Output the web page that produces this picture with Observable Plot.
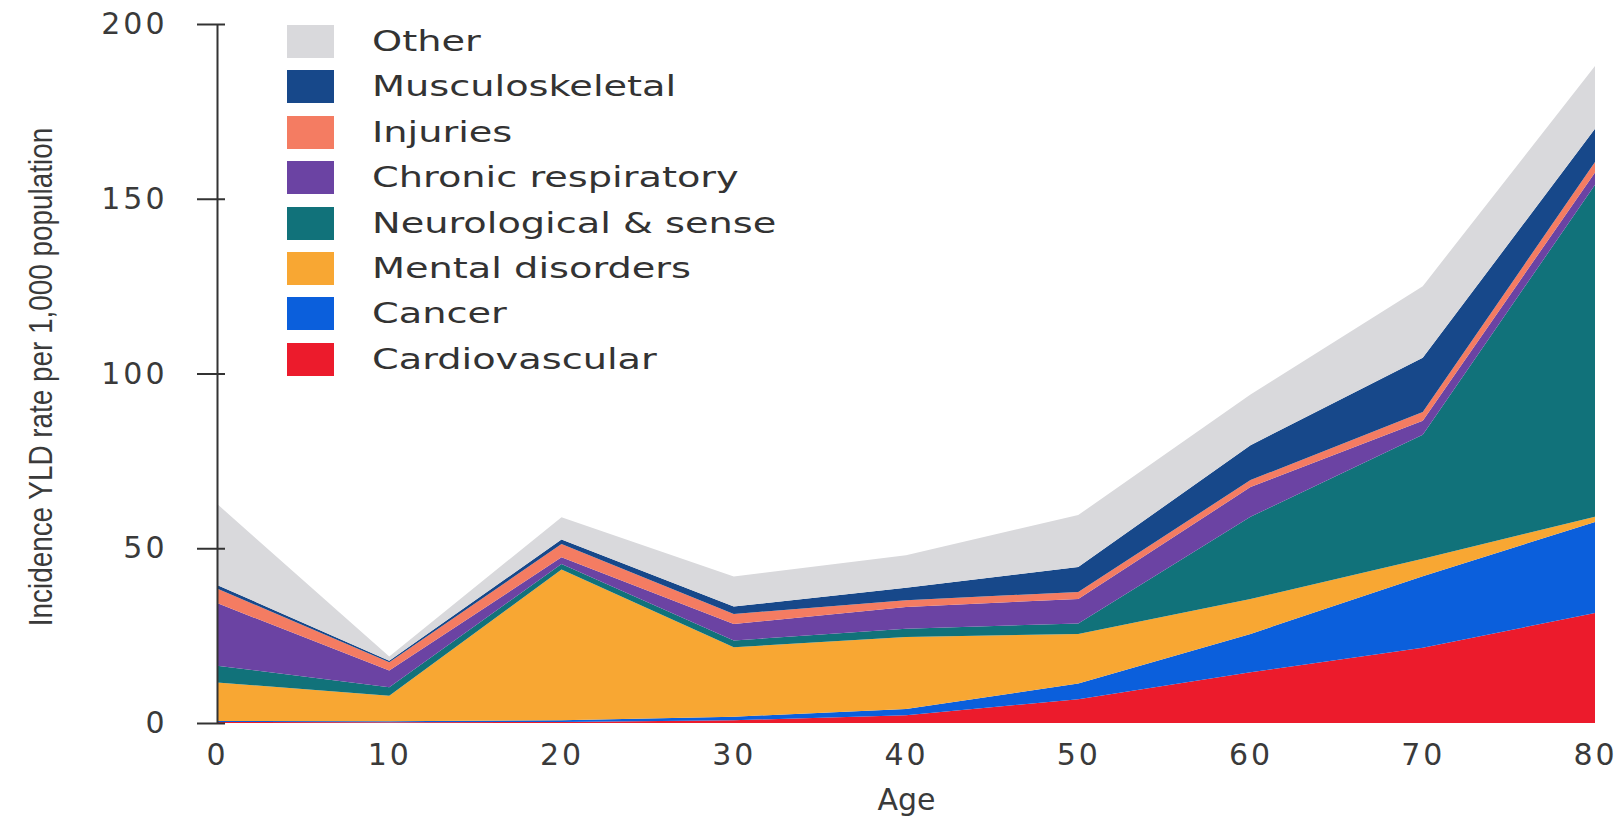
<!DOCTYPE html>
<html>
<head>
<meta charset="utf-8">
<script src="https://cdn.jsdelivr.net/npm/d3@7"></script>
<script src="https://cdn.jsdelivr.net/npm/@observablehq/plot@0.6"></script>
<style>
  body { margin: 0; background: #fff; }
  #wrap { position: relative; width: 1624px; height: 819px; overflow: hidden; }
  #legend { position: absolute; left: 287px; top: 25px; font-family: "DejaVu Sans", sans-serif; color: #333; }
  .row { position: relative; height: 45.4px; }
  .sw { position: absolute; left: 0; top: 0; width: 47px; height: 33px; }
  .lb { position: absolute; left: 85px; top: -2px; font-size: 29px; line-height: 36px; white-space: nowrap; transform: scaleX(1.32); transform-origin: left center; }
  g[aria-label="x-axis tick label"] text, g[aria-label="y-axis tick label"] text { letter-spacing: 3px; }
</style>
</head>
<body>
<div id="wrap"><div id="chart"></div><div id="legend"></div></div>
<script>
const ages = [0, 10, 20, 30, 40, 50, 60, 70, 80];
const causes = ["Cardiovascular", "Cancer", "Mental disorders", "Neurological & sense", "Chronic respiratory", "Injuries", "Musculoskeletal", "Other"];
const cardiovascular = [0.3, 0.2, 0.3, 0.8, 2.2, 6.8, 14.5, 21.5, 31.5];
const cancer = [0.3, 0.3, 0.5, 1.0, 1.8, 4.5, 11.0, 20.5, 26.0];
const mental = [11.0, 7.3, 43.1, 19.9, 20.6, 14.2, 10.0, 5.0, 1.5];
const neurological = [4.8, 2.4, 1.6, 1.9, 2.4, 3.0, 23.5, 35.5, 95.0];
const chronicResp = [17.9, 4.8, 1.9, 4.7, 6.2, 7.0, 8.5, 4.0, 3.5];
const injuries = [4.2, 2.4, 3.8, 2.9, 1.9, 2.0, 2.0, 2.5, 3.0];
const musculoskeletal = [1.0, 0.4, 1.3, 2.1, 3.6, 7.1, 10.0, 15.5, 9.5];
const other = [23.2, 1.2, 6.4, 8.6, 9.3, 14.9, 14.5, 20.5, 18.0];
const colors = ["#ec1b2c", "#0b5fdc", "#f8a733", "#11727a", "#6b43a3", "#f47c62", "#17488a", "#d9d9dc"];
const xTicks = [0, 10, 20, 30, 40, 50, 60, 70, 80];
const yTicks = [0, 50, 100, 150, 200];
const xDomain = [0, 80];
const yDomain = [0, 200];
const yLabel = "Incidence YLD rate per 1,000 population";
const xLabel = "Age";

const series = [cardiovascular, cancer, mental, neurological, chronicResp, injuries, musculoskeletal, other];
const rows = [];
causes.forEach((c, i) => ages.forEach((a, j) => rows.push({ age: a, cause: c, value: series[i][j] })));

const chart = Plot.plot({
  width: 1624,
  height: 819,
  marginLeft: 217,
  marginRight: 29,
  marginTop: 24,
  marginBottom: 96,
  style: { fontFamily: "DejaVu Sans, sans-serif", fontSize: "30px", color: "#3a3a3a", background: "#fff" },
  x: { domain: xDomain, ticks: xTicks, label: null },
  y: { domain: yDomain, ticks: yTicks, label: null },
  color: { domain: causes, range: colors },
  marks: [
    Plot.areaY(rows, { x: "age", y: "value", z: "cause", fill: "cause", curve: "linear" }),
    Plot.ruleX([xDomain[0]], { y1: yDomain[0], y2: yDomain[1], stroke: "#333", strokeWidth: 2 }),
    Plot.ruleY(yTicks, { y: d => d, x1: xDomain[0], x2: xDomain[0], insetLeft: -20, insetRight: -8, stroke: "#333", strokeWidth: 2 }),
    Plot.axisY({ ticks: yTicks, tickSize: 0, tickPadding: 50, label: null, fontSize: 30, fill: "#3a3a3a" }),
    Plot.axisX({ ticks: xTicks, tickSize: 0, tickPadding: 20, label: null, fontSize: 30, fill: "#3a3a3a" }),
    Plot.text([yLabel], { text: d => d, frameAnchor: "left", textAnchor: "middle", rotate: -90, dx: -176, dy: 3, fontSize: 34, fontFamily: "Liberation Sans, Arial, sans-serif", fill: "#3a3a3a" }),
    Plot.text([xLabel], { text: d => d, frameAnchor: "bottom", dy: 86, fontSize: 30, fill: "#3a3a3a" })
  ]
});
document.getElementById("chart").appendChild(chart);

// condense the y-axis title along its direction (reference uses a narrow face)
d3.select(chart).selectAll("text").filter(function () { return this.textContent === yLabel; })
  .attr("transform", function () { return (this.getAttribute("transform") || "") + " scale(0.82,1)"; });

const legend = document.getElementById("legend");
causes.slice().reverse().forEach(c => {
  const row = document.createElement("div");
  row.className = "row";
  const sw = document.createElement("div");
  sw.className = "sw";
  sw.style.background = colors[causes.indexOf(c)];
  const lb = document.createElement("div");
  lb.className = "lb";
  lb.textContent = c;
  row.appendChild(sw);
  row.appendChild(lb);
  legend.appendChild(row);
});
</script>
</body>
</html>
